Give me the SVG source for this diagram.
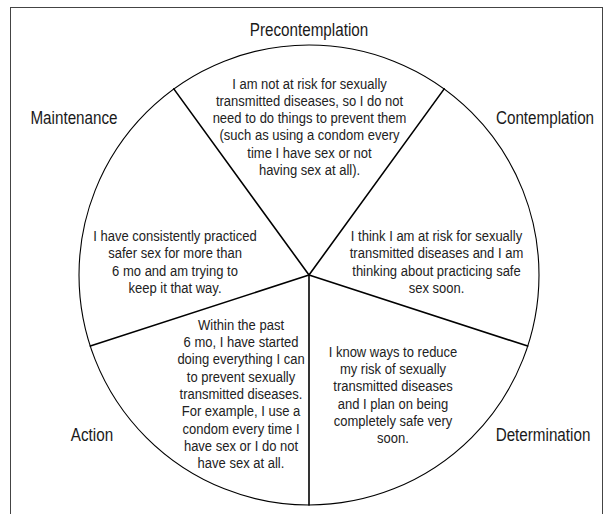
<svg xmlns="http://www.w3.org/2000/svg" width="613" height="514" viewBox="0 0 613 514">
<style>
.lbl{font-family:"Liberation Sans",Arial,sans-serif;font-size:17.5px;fill:#1a1a1a;text-anchor:middle}
.body{font-family:"Liberation Sans",Arial,sans-serif;font-size:15.5px;fill:#222;text-anchor:middle}
.spoke{stroke:#000;stroke-width:1.6;fill:none;stroke-linecap:round}
</style>
<rect x="10.5" y="7.5" width="592" height="520" fill="#fff" stroke="#444" stroke-width="1"/>
<circle cx="309" cy="275" r="230" fill="#fff" stroke="#000" stroke-width="1.1"/>
<g id="connectors">
<line class="spoke" x1="309" y1="275" x2="173.8" y2="88.9"/>
<line class="spoke" x1="309" y1="275" x2="444.2" y2="88.9"/>
<line class="spoke" x1="309" y1="275" x2="527.7" y2="346.1"/>
<line class="spoke" x1="309" y1="275" x2="309" y2="505"/>
<line class="spoke" x1="309" y1="275" x2="90.3" y2="346.1"/>
</g>
<g id="precontemplation">
<text class="lbl" transform="translate(309,36) scale(0.87,1)">Precontemplation</text>
<text class="body" transform="translate(309.5,88.5) scale(0.84,1)"><tspan x="0" dy="0">I am not at risk for sexually</tspan><tspan x="0" dy="17.3">transmitted diseases, so I do not</tspan><tspan x="0" dy="17.3">need to do things to prevent them</tspan><tspan x="0" dy="17.3">(such as using a condom every</tspan><tspan x="0" dy="17.3">time I have sex or not</tspan><tspan x="0" dy="17.3">having sex at all).</tspan></text>
</g>
<g id="contemplation">
<text class="lbl" transform="translate(545,124) scale(0.87,1)">Contemplation</text>
<text class="body" transform="translate(436.5,241) scale(0.84,1)"><tspan x="0" dy="0">I think I am at risk for sexually</tspan><tspan x="0" dy="17.4">transmitted diseases and I am</tspan><tspan x="0" dy="17.4">thinking about practicing safe</tspan><tspan x="0" dy="17.4">sex soon.</tspan></text>
</g>
<g id="determination">
<text class="lbl" transform="translate(543,441) scale(0.87,1)">Determination</text>
<text class="body" transform="translate(393,356.5) scale(0.84,1)"><tspan x="0" dy="0">I know ways to reduce</tspan><tspan x="0" dy="17.4">my risk of sexually</tspan><tspan x="0" dy="17.4">transmitted diseases</tspan><tspan x="0" dy="17.4">and I plan on being</tspan><tspan x="0" dy="17.4">completely safe very</tspan><tspan x="0" dy="17.4">soon.</tspan></text>
</g>
<g id="action">
<text class="lbl" transform="translate(92,441) scale(0.87,1)">Action</text>
<text class="body" transform="translate(241,329.5) scale(0.84,1)"><tspan x="0" dy="0">Within the past</tspan><tspan x="0" dy="17.35">6 mo, I have started</tspan><tspan x="0" dy="17.35">doing everything I can</tspan><tspan x="0" dy="17.35">to prevent sexually</tspan><tspan x="0" dy="17.35">transmitted diseases.</tspan><tspan x="0" dy="17.35">For example, I use a</tspan><tspan x="0" dy="17.35">condom every time I</tspan><tspan x="0" dy="17.35">have sex or I do not</tspan><tspan x="0" dy="17.35">have sex at all.</tspan></text>
</g>
<g id="maintenance">
<text class="lbl" transform="translate(74,124) scale(0.87,1)">Maintenance</text>
<text class="body" transform="translate(175,241) scale(0.84,1)"><tspan x="0" dy="0">I have consistently practiced</tspan><tspan x="0" dy="17.4">safer sex for more than</tspan><tspan x="0" dy="17.4">6 mo and am trying to</tspan><tspan x="0" dy="17.4">keep it that way.</tspan></text>
</g>
</svg>
